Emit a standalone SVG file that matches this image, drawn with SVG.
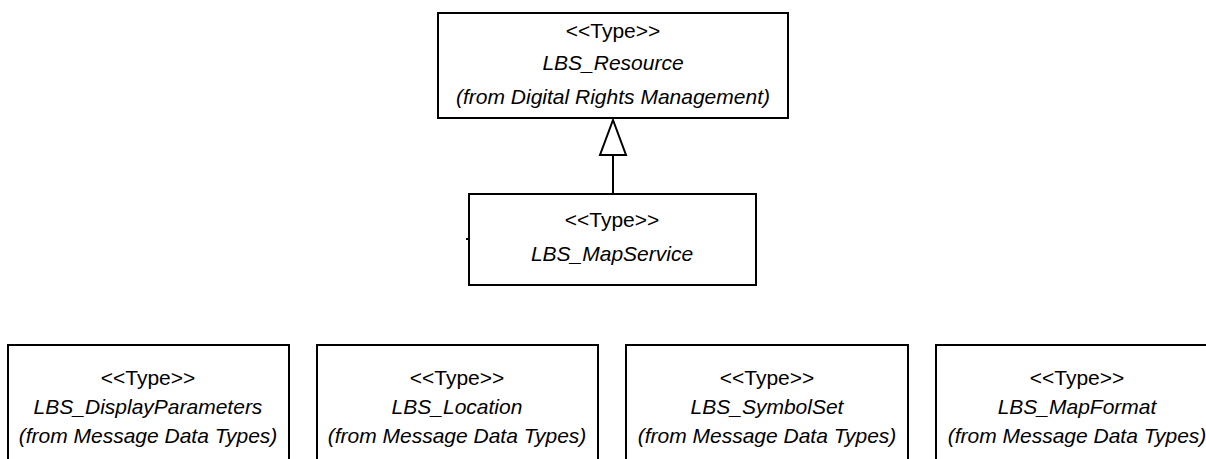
<svg xmlns="http://www.w3.org/2000/svg" width="1206" height="459" viewBox="0 0 1206 459">
  <style>
    .box { fill: #ffffff; stroke: #000000; stroke-width: 2; }
    .txt { font-family: "Liberation Sans", Arial, sans-serif; font-size: 21px; fill: #000000; text-anchor: middle; }
    .it { font-style: italic; }
    .edge { fill: none; stroke: #000000; stroke-width: 2; }
    .head { fill: #ffffff; stroke: #000000; stroke-width: 2; }
  </style>
  <rect width="1206" height="459" fill="#ffffff"/>

  <!-- generalization: LBS_MapService -> LBS_Resource -->
  <g id="connectors">
    <line class="edge" x1="613" y1="155" x2="613" y2="194"/>
    <polygon class="head" points="613,120 600,155 626,155"/>
  </g>

  <g id="LBS_Resource">
    <rect class="box" x="438" y="13" width="350" height="105"/>
    <text class="txt" x="613" y="38">&lt;&lt;Type&gt;&gt;</text>
    <text class="txt it" x="613" y="70">LBS_Resource</text>
    <text class="txt it" x="613" y="104">(from Digital Rights Management)</text>
  </g>

  <g id="LBS_MapService">
    <rect class="box" x="469" y="194" width="287" height="91"/>
    <line class="edge" x1="466" y1="239" x2="469" y2="239"/>
    <text class="txt" x="612" y="227">&lt;&lt;Type&gt;&gt;</text>
    <text class="txt it" x="612" y="261">LBS_MapService</text>
  </g>

  <g id="LBS_DisplayParameters">
    <rect class="box" x="8" y="345" width="281" height="130"/>
    <text class="txt" x="148" y="385">&lt;&lt;Type&gt;&gt;</text>
    <text class="txt it" x="148" y="414">LBS_DisplayParameters</text>
    <text class="txt it" x="148" y="443">(from Message Data Types)</text>
  </g>

  <g id="LBS_Location">
    <rect class="box" x="317" y="345" width="281" height="130"/>
    <text class="txt" x="457" y="385">&lt;&lt;Type&gt;&gt;</text>
    <text class="txt it" x="457" y="414">LBS_Location</text>
    <text class="txt it" x="457" y="443">(from Message Data Types)</text>
  </g>

  <g id="LBS_SymbolSet">
    <rect class="box" x="626" y="345" width="282" height="130"/>
    <text class="txt" x="767" y="385">&lt;&lt;Type&gt;&gt;</text>
    <text class="txt it" x="767" y="414">LBS_SymbolSet</text>
    <text class="txt it" x="767" y="443">(from Message Data Types)</text>
  </g>

  <g id="LBS_MapFormat">
    <rect class="box" x="936" y="345" width="282" height="130"/>
    <text class="txt" x="1077" y="385">&lt;&lt;Type&gt;&gt;</text>
    <text class="txt it" x="1077" y="414">LBS_MapFormat</text>
    <text class="txt it" x="1077" y="443">(from Message Data Types)</text>
  </g>
</svg>
